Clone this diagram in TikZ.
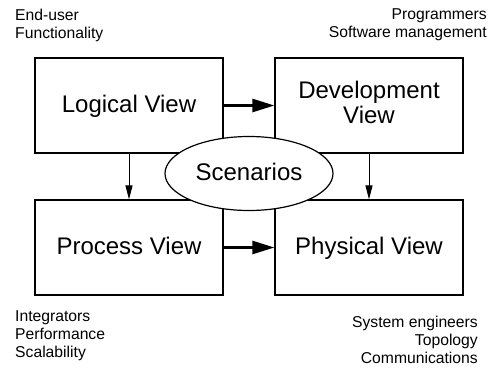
\documentclass[tikz,border=0pt]{standalone}
\usepackage{fontspec}
\setmainfont{Liberation Sans}
\usetikzlibrary{arrows.meta,shapes.geometric}

\newcommand\viewstrut{\rule[-2.5pt]{0pt}{19.9pt}}
\newcommand\viewtext[1]{\smash{#1}\viewstrut}

\tikzset{
  viewfont/.style={font=\fontsize{24}{25}\selectfont},
  view/.style={draw,line width=1.2pt,minimum width=188pt,minimum height=95pt,
    align=center,viewfont},
  note/.style={font=\fontsize{15.7}{18.2}\selectfont,inner sep=0pt},
  flow/.style={line width=2.6pt,-{Triangle[length=22pt,width=13pt]}},
  refine/.style={line width=1pt,-{Triangle[length=14pt,width=7pt]}}
}

\begin{document}
\begin{tikzpicture}[x=1pt,y=-1pt]
\useasboundingbox (0,0) rectangle (495,367);

% the four views
\node[view] (logical) at (129,105.5) {\viewtext{Logical View}};
\node[view] (devel) at (369,105.5) {\strut Development\\\strut View};
\node[view] (process) at (129,247.5) {\viewtext{Process View}};
\node[view] (physical) at (369,247.5) {\viewtext{Physical View}};

\draw[flow] (logical) -- (devel);
\draw[flow] (process) -- (physical);
\draw[refine] (logical.south) -- (process.north);
\draw[refine] (devel.south) -- (physical.north);

% scenarios on top
\node[ellipse,draw,line width=1.2pt,fill=white,minimum width=168pt,minimum height=74pt,
  viewfont] (scen) at (249,173.5) {\viewtext{Scenarios}};

% stakeholders and concerns
\node[note,anchor=north west,align=left] (enduser) at (15,9) {End-user\\Functionality};
\node[note,anchor=north east,align=right] (prog) at (487,8) {Programmers\\Software management};
\node[note,anchor=north west,align=left] (integ) at (15,310.5) {Integrators\\Performance\\Scalability};
\node[note,anchor=north east,align=right] (syseng) at (478,315.5) {System engineers\\Topology\\Communications};

\end{tikzpicture}
\end{document}
